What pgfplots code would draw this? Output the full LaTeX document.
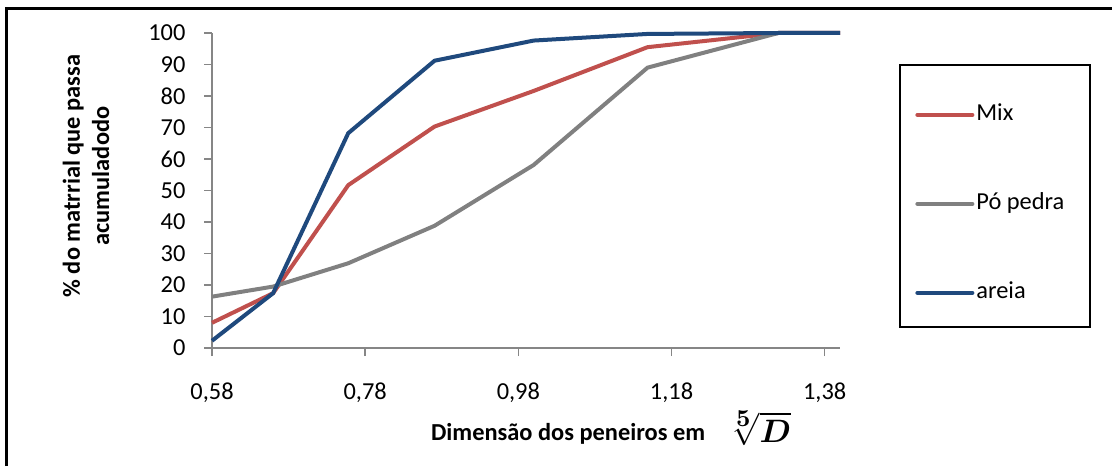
\documentclass[border=0pt]{standalone}
\usepackage{fontspec}
\setmainfont{Carlito}
\usepackage{bm}
\usepackage{pgfplots}
\pgfplotsset{compat=1.18}
\definecolor{mixred}{HTML}{C0504D}
\definecolor{pgray}{HTML}{808080}
\definecolor{ablue}{HTML}{1F497D}
\definecolor{axgray}{HTML}{868686}
\begin{document}
\fontsize{12.2}{14.6}\selectfont
\begin{tikzpicture}
\useasboundingbox (0,0) rectangle (556pt,233pt);
\draw[line width=1.5pt] (3.25pt,0pt) -- (3.25pt,228.75pt) -- (556pt,228.75pt);
\begin{axis}[at={(106pt,59pt)}, anchor=south west, scale only axis,
  width=314pt, height=157.5pt,
  xmin=0.58, xmax=1.40, ymin=0, ymax=100,
  clip=false,
  axis x line=bottom, axis y line=left,
  axis line style={axgray, line width=0.75pt, -},
  xtick={0.58,0.78,0.98,1.18,1.38},
  xticklabels={{0,58},{0,78},{0,98},{1,18},{1,38}},
  ytick={0,10,...,100},
  /pgf/number format/assume math mode=true,
  tick align=outside, major tick length=4pt,
  tick style={axgray, line width=0.75pt},
  xticklabel style={yshift=-9pt},
  yticklabel style={xshift=-5pt},
  ticklabel style={font=\fontsize{12.2}{14.6}\selectfont},
  xlabel={\textbf{Dimensão dos peneiros em}\hspace{11pt}\raisebox{-1pt}{\scalebox{1.35}{$\sqrt[\scriptstyle\bm{5}]{\bm{D}}$}}},
  xlabel style={at={(axis description cs:0.6354,-0.255)}, anchor=center, font=\fontsize{12.2}{14.6}\selectfont},
  ylabel={\textbf{\% do matrrial que passa}\\\textbf{acumuladodo}},
  ylabel style={at={(axis description cs:-0.2006,0.546)}, anchor=center, align=center, font=\fontsize{12.2}{14.6}\selectfont},
  legend style={at={(axis description cs:1.1194,0.773)}, anchor=north west, draw=none, fill=none,
    inner sep=0pt, row sep=34.5pt, column sep=0pt,
    nodes={inner xsep=1pt, inner ysep=0pt, text height=8pt, text depth=2pt},
    font=\fontsize{12.2}{14.6}\selectfont},
  legend cell align=left,
  legend image code/.code={\draw[#1, line cap=round] (0pt,0pt) -- (27.5pt,0pt);},
  every axis plot/.append style={line width=2pt, line join=round, mark=none},
]
\addplot[mixred] coordinates {(0.58,8.0) (0.6598,17.4) (0.7579,51.7) (0.8706,70.3) (1.0,81.6) (1.1487,95.5) (1.3195,100) (1.40,100)};
\addlegendentry{Mix}
\addplot[pgray] coordinates {(0.58,16.3) (0.6598,19.5) (0.7579,26.9) (0.8706,38.8) (1.0,58.1) (1.1487,89.0) (1.3195,100) (1.40,100)};
\addlegendentry{Pó pedra}
\addplot[ablue] coordinates {(0.58,2.3) (0.6598,17.4) (0.7579,68.2) (0.8706,91.2) (1.0,97.6) (1.1487,99.7) (1.3195,100) (1.40,100)};
\addlegendentry{areia}
\end{axis}
\draw[line width=0.75pt] (450pt,200.5pt) rectangle (545pt,69.5pt);
\end{tikzpicture}
\end{document}
